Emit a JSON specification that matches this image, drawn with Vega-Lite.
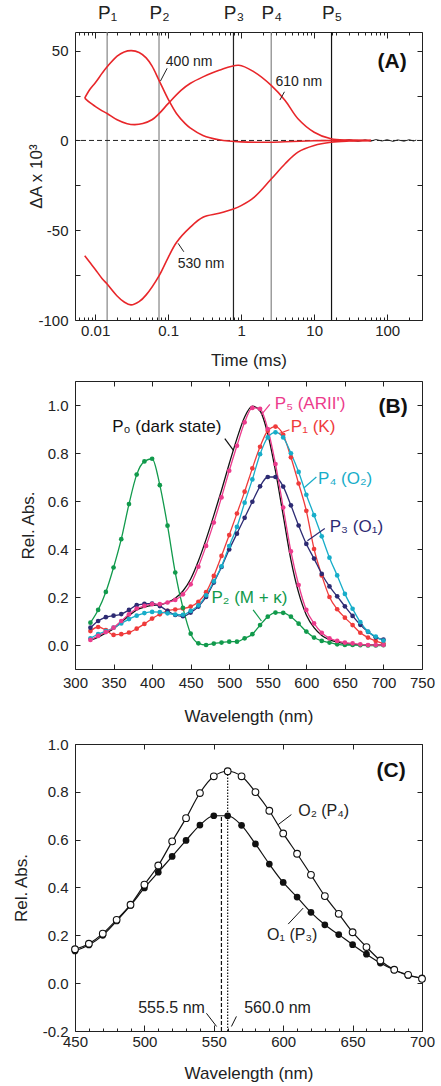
{
  "$schema": "https://vega.github.io/schema/vega-lite/v6.json",
  "padding": {"left": 11, "top": 2, "right": 0, "bottom": 0},
  "spacing": 11,
  "resolve": {"scale": {"color": "independent"}},
  "config": {
    "font": "Liberation Sans",
    "view": {"stroke": "#222", "strokeWidth": 1},
    "axis": {"grid": false, "domain": false, "tickColor": "#222", "tickSize": -5, "tickWidth": 1, "labelColor": "#222", "labelFontSize": 15, "labelFont": "Liberation Sans", "titleFont": "Liberation Sans", "titleFontSize": 17, "titleFontWeight": "normal", "titleColor": "#222", "labelPadding": 11, "labelFlush": false, "labelOverlap": false},
    "text": {"font": "Liberation Sans"}
  },
  "datasets": {
    "kinetics": [
      {"t": 0.0072, "v": 23.6, "s": "400"}, {"t": 0.0085, "v": 28.5, "s": "400"}, {"t": 0.01, "v": 32, "s": "400"}, {"t": 0.0125, "v": 37.5, "s": "400"}, {"t": 0.0146, "v": 41, "s": "400"}, {"t": 0.02, "v": 47, "s": "400"}, {"t": 0.025, "v": 49.3, "s": "400"}, {"t": 0.0314, "v": 50, "s": "400"}, {"t": 0.04, "v": 49, "s": "400"}, {"t": 0.05, "v": 46, "s": "400"}, {"t": 0.06, "v": 41.5, "s": "400"}, {"t": 0.075, "v": 33.5, "s": "400"}, {"t": 0.1, "v": 23, "s": "400"}, {"t": 0.13, "v": 15, "s": "400"}, {"t": 0.17, "v": 9.5, "s": "400"}, {"t": 0.2, "v": 7, "s": "400"}, {"t": 0.3, "v": 2.8, "s": "400"}, {"t": 0.5, "v": 0.4, "s": "400"}, {"t": 1, "v": -0.8, "s": "400"}, {"t": 2.5, "v": -1, "s": "400"}, {"t": 5, "v": -0.6, "s": "400"}, {"t": 10, "v": -0.2, "s": "400"}, {"t": 20, "v": 0, "s": "400"}, {"t": 60, "v": 0, "s": "400"},
      {"t": 0.0072, "v": 23.6, "s": "610"}, {"t": 0.0085, "v": 21, "s": "610"}, {"t": 0.01, "v": 19, "s": "610"}, {"t": 0.0125, "v": 16.5, "s": "610"}, {"t": 0.0146, "v": 15, "s": "610"}, {"t": 0.02, "v": 11.5, "s": "610"}, {"t": 0.0275, "v": 9.3, "s": "610"}, {"t": 0.035, "v": 8.8, "s": "610"}, {"t": 0.045, "v": 9.4, "s": "610"}, {"t": 0.06, "v": 11.5, "s": "610"}, {"t": 0.075, "v": 14.9, "s": "610"}, {"t": 0.1, "v": 20.5, "s": "610"}, {"t": 0.15, "v": 27.9, "s": "610"}, {"t": 0.2, "v": 31.7, "s": "610"}, {"t": 0.3, "v": 35.4, "s": "610"}, {"t": 0.5, "v": 39.1, "s": "610"}, {"t": 0.93, "v": 41.9, "s": "610"}, {"t": 1.5, "v": 38.2, "s": "610"}, {"t": 2.58, "v": 30.7, "s": "610"}, {"t": 4, "v": 22.3, "s": "610"}, {"t": 6, "v": 12.1, "s": "610"}, {"t": 10, "v": 4.6, "s": "610"}, {"t": 17, "v": 0.9, "s": "610"}, {"t": 30, "v": 0.2, "s": "610"}, {"t": 60, "v": 0, "s": "610"},
      {"t": 0.0072, "v": -64.2, "s": "530"}, {"t": 0.0085, "v": -68, "s": "530"}, {"t": 0.01, "v": -71.7, "s": "530"}, {"t": 0.0125, "v": -77, "s": "530"}, {"t": 0.0146, "v": -80, "s": "530"}, {"t": 0.02, "v": -86.6, "s": "530"}, {"t": 0.025, "v": -90, "s": "530"}, {"t": 0.031, "v": -91.6, "s": "530"}, {"t": 0.04, "v": -89.8, "s": "530"}, {"t": 0.05, "v": -86, "s": "530"}, {"t": 0.075, "v": -75.4, "s": "530"}, {"t": 0.1, "v": -65.2, "s": "530"}, {"t": 0.13, "v": -56.8, "s": "530"}, {"t": 0.2, "v": -48.4, "s": "530"}, {"t": 0.3, "v": -42.8, "s": "530"}, {"t": 0.5, "v": -40.6, "s": "530"}, {"t": 0.785, "v": -38.2, "s": "530"}, {"t": 1, "v": -36.3, "s": "530"}, {"t": 1.5, "v": -31.7, "s": "530"}, {"t": 2.58, "v": -21.5, "s": "530"}, {"t": 4, "v": -13, "s": "530"}, {"t": 6, "v": -6.5, "s": "530"}, {"t": 10, "v": -2.8, "s": "530"}, {"t": 17, "v": -1, "s": "530"}, {"t": 30, "v": -0.3, "s": "530"}, {"t": 60, "v": 0, "s": "530"}
    ],
    "noise": [
      {"t": 20, "v": 0.5}, {"t": 25, "v": -0.3}, {"t": 30, "v": 0.4}, {"t": 40, "v": -0.5}, {"t": 50, "v": 0.3}, {"t": 60, "v": -0.4}, {"t": 70, "v": 0.5}, {"t": 85, "v": -0.3}, {"t": 100, "v": 0.4}, {"t": 120, "v": -0.5}, {"t": 140, "v": 0.3}, {"t": 170, "v": -0.4}, {"t": 200, "v": 0.4}, {"t": 230, "v": -0.3}, {"t": 250, "v": 0.2}
    ],
    "spectra": [
      {"w":320,"v":0.02,"s":"P0"},{"w":330,"v":0.033,"s":"P0"},{"w":340,"v":0.05,"s":"P0"},{"w":350,"v":0.068,"s":"P0"},{"w":360,"v":0.095,"s":"P0"},{"w":370,"v":0.122,"s":"P0"},{"w":380,"v":0.146,"s":"P0"},{"w":390,"v":0.158,"s":"P0"},{"w":400,"v":0.165,"s":"P0"},{"w":410,"v":0.168,"s":"P0"},{"w":420,"v":0.178,"s":"P0"},{"w":430,"v":0.195,"s":"P0"},{"w":440,"v":0.225,"s":"P0"},{"w":450,"v":0.275,"s":"P0"},{"w":460,"v":0.35,"s":"P0"},{"w":470,"v":0.44,"s":"P0"},{"w":480,"v":0.54,"s":"P0"},{"w":490,"v":0.645,"s":"P0"},{"w":500,"v":0.755,"s":"P0"},{"w":510,"v":0.86,"s":"P0"},{"w":520,"v":0.95,"s":"P0"},{"w":530,"v":0.995,"s":"P0"},{"w":540,"v":0.975,"s":"P0"},{"w":550,"v":0.88,"s":"P0"},{"w":560,"v":0.725,"s":"P0"},{"w":570,"v":0.54,"s":"P0"},{"w":580,"v":0.355,"s":"P0"},{"w":590,"v":0.218,"s":"P0"},{"w":600,"v":0.125,"s":"P0"},{"w":610,"v":0.072,"s":"P0"},{"w":620,"v":0.04,"s":"P0"},{"w":630,"v":0.022,"s":"P0"},{"w":640,"v":0.012,"s":"P0"},{"w":650,"v":0.006,"s":"P0"},{"w":660,"v":0.003,"s":"P0"},{"w":670,"v":0.001,"s":"P0"},{"w":680,"v":0,"s":"P0"},{"w":690,"v":0,"s":"P0"},{"w":700,"v":0,"s":"P0"},
      {"w":320,"v":0.058,"s":"P1"},{"w":330,"v":0.075,"s":"P1"},{"w":340,"v":0.062,"s":"P1"},{"w":350,"v":0.042,"s":"P1"},{"w":360,"v":0.045,"s":"P1"},{"w":370,"v":0.052,"s":"P1"},{"w":380,"v":0.068,"s":"P1"},{"w":390,"v":0.088,"s":"P1"},{"w":400,"v":0.11,"s":"P1"},{"w":410,"v":0.128,"s":"P1"},{"w":420,"v":0.142,"s":"P1"},{"w":430,"v":0.148,"s":"P1"},{"w":440,"v":0.152,"s":"P1"},{"w":450,"v":0.16,"s":"P1"},{"w":460,"v":0.18,"s":"P1"},{"w":470,"v":0.22,"s":"P1"},{"w":480,"v":0.288,"s":"P1"},{"w":490,"v":0.371,"s":"P1"},{"w":500,"v":0.458,"s":"P1"},{"w":510,"v":0.548,"s":"P1"},{"w":520,"v":0.639,"s":"P1"},{"w":530,"v":0.736,"s":"P1"},{"w":540,"v":0.826,"s":"P1"},{"w":550,"v":0.893,"s":"P1"},{"w":560,"v":0.91,"s":"P1"},{"w":570,"v":0.876,"s":"P1"},{"w":580,"v":0.782,"s":"P1"},{"w":590,"v":0.673,"s":"P1"},{"w":600,"v":0.559,"s":"P1"},{"w":610,"v":0.4,"s":"P1"},{"w":620,"v":0.29,"s":"P1"},{"w":630,"v":0.2,"s":"P1"},{"w":640,"v":0.149,"s":"P1"},{"w":650,"v":0.114,"s":"P1"},{"w":660,"v":0.083,"s":"P1"},{"w":670,"v":0.051,"s":"P1"},{"w":680,"v":0.031,"s":"P1"},{"w":690,"v":0.017,"s":"P1"},{"w":700,"v":0.006,"s":"P1"},
      {"w":320,"v":0.072,"s":"P3"},{"w":330,"v":0.1,"s":"P3"},{"w":340,"v":0.116,"s":"P3"},{"w":350,"v":0.122,"s":"P3"},{"w":360,"v":0.129,"s":"P3"},{"w":370,"v":0.146,"s":"P3"},{"w":380,"v":0.166,"s":"P3"},{"w":390,"v":0.171,"s":"P3"},{"w":400,"v":0.173,"s":"P3"},{"w":410,"v":0.162,"s":"P3"},{"w":420,"v":0.142,"s":"P3"},{"w":430,"v":0.125,"s":"P3"},{"w":440,"v":0.12,"s":"P3"},{"w":450,"v":0.135,"s":"P3"},{"w":460,"v":0.16,"s":"P3"},{"w":470,"v":0.2,"s":"P3"},{"w":480,"v":0.26,"s":"P3"},{"w":490,"v":0.325,"s":"P3"},{"w":500,"v":0.398,"s":"P3"},{"w":510,"v":0.464,"s":"P3"},{"w":520,"v":0.53,"s":"P3"},{"w":530,"v":0.597,"s":"P3"},{"w":540,"v":0.661,"s":"P3"},{"w":550,"v":0.7,"s":"P3"},{"w":560,"v":0.7,"s":"P3"},{"w":570,"v":0.66,"s":"P3"},{"w":580,"v":0.582,"s":"P3"},{"w":590,"v":0.498,"s":"P3"},{"w":600,"v":0.421,"s":"P3"},{"w":610,"v":0.36,"s":"P3"},{"w":620,"v":0.296,"s":"P3"},{"w":630,"v":0.244,"s":"P3"},{"w":640,"v":0.203,"s":"P3"},{"w":650,"v":0.161,"s":"P3"},{"w":660,"v":0.121,"s":"P3"},{"w":670,"v":0.084,"s":"P3"},{"w":680,"v":0.055,"s":"P3"},{"w":690,"v":0.032,"s":"P3"},{"w":700,"v":0.022,"s":"P3"},
      {"w":320,"v":0.028,"s":"P4"},{"w":330,"v":0.045,"s":"P4"},{"w":340,"v":0.058,"s":"P4"},{"w":350,"v":0.072,"s":"P4"},{"w":360,"v":0.09,"s":"P4"},{"w":370,"v":0.108,"s":"P4"},{"w":380,"v":0.122,"s":"P4"},{"w":390,"v":0.133,"s":"P4"},{"w":400,"v":0.138,"s":"P4"},{"w":410,"v":0.137,"s":"P4"},{"w":420,"v":0.132,"s":"P4"},{"w":430,"v":0.127,"s":"P4"},{"w":440,"v":0.126,"s":"P4"},{"w":450,"v":0.142,"s":"P4"},{"w":460,"v":0.165,"s":"P4"},{"w":470,"v":0.207,"s":"P4"},{"w":480,"v":0.265,"s":"P4"},{"w":490,"v":0.328,"s":"P4"},{"w":500,"v":0.412,"s":"P4"},{"w":510,"v":0.492,"s":"P4"},{"w":520,"v":0.593,"s":"P4"},{"w":530,"v":0.69,"s":"P4"},{"w":540,"v":0.795,"s":"P4"},{"w":550,"v":0.865,"s":"P4"},{"w":560,"v":0.886,"s":"P4"},{"w":570,"v":0.865,"s":"P4"},{"w":580,"v":0.799,"s":"P4"},{"w":590,"v":0.721,"s":"P4"},{"w":600,"v":0.626,"s":"P4"},{"w":610,"v":0.541,"s":"P4"},{"w":620,"v":0.453,"s":"P4"},{"w":630,"v":0.364,"s":"P4"},{"w":640,"v":0.29,"s":"P4"},{"w":650,"v":0.213,"s":"P4"},{"w":660,"v":0.151,"s":"P4"},{"w":670,"v":0.095,"s":"P4"},{"w":680,"v":0.056,"s":"P4"},{"w":690,"v":0.035,"s":"P4"},{"w":700,"v":0.018,"s":"P4"},
      {"w":320,"v":0.093,"s":"P2"},{"w":330,"v":0.146,"s":"P2"},{"w":340,"v":0.221,"s":"P2"},{"w":350,"v":0.323,"s":"P2"},{"w":360,"v":0.441,"s":"P2"},{"w":370,"v":0.587,"s":"P2"},{"w":380,"v":0.71,"s":"P2"},{"w":390,"v":0.765,"s":"P2"},{"w":400,"v":0.776,"s":"P2"},{"w":410,"v":0.666,"s":"P2"},{"w":420,"v":0.497,"s":"P2"},{"w":430,"v":0.302,"s":"P2"},{"w":440,"v":0.155,"s":"P2"},{"w":450,"v":0.047,"s":"P2"},{"w":460,"v":0.007,"s":"P2"},{"w":470,"v":0,"s":"P2"},{"w":480,"v":0.006,"s":"P2"},{"w":490,"v":0.01,"s":"P2"},{"w":500,"v":0.014,"s":"P2"},{"w":510,"v":0.014,"s":"P2"},{"w":520,"v":0.028,"s":"P2"},{"w":530,"v":0.045,"s":"P2"},{"w":540,"v":0.083,"s":"P2"},{"w":550,"v":0.118,"s":"P2"},{"w":560,"v":0.135,"s":"P2"},{"w":570,"v":0.134,"s":"P2"},{"w":580,"v":0.118,"s":"P2"},{"w":590,"v":0.089,"s":"P2"},{"w":600,"v":0.056,"s":"P2"},{"w":610,"v":0.031,"s":"P2"},{"w":620,"v":0.017,"s":"P2"},{"w":630,"v":0.01,"s":"P2"},{"w":640,"v":0.003,"s":"P2"},{"w":650,"v":0,"s":"P2"},{"w":660,"v":0,"s":"P2"},{"w":670,"v":-0.001,"s":"P2"},{"w":680,"v":-0.002,"s":"P2"},{"w":690,"v":-0.002,"s":"P2"},{"w":700,"v":-0.001,"s":"P2"},
      {"w":320,"v":0.021,"s":"P5"},{"w":330,"v":0.038,"s":"P5"},{"w":340,"v":0.054,"s":"P5"},{"w":350,"v":0.072,"s":"P5"},{"w":360,"v":0.1,"s":"P5"},{"w":370,"v":0.128,"s":"P5"},{"w":380,"v":0.152,"s":"P5"},{"w":390,"v":0.163,"s":"P5"},{"w":400,"v":0.17,"s":"P5"},{"w":410,"v":0.17,"s":"P5"},{"w":420,"v":0.177,"s":"P5"},{"w":430,"v":0.188,"s":"P5"},{"w":440,"v":0.211,"s":"P5"},{"w":450,"v":0.253,"s":"P5"},{"w":460,"v":0.326,"s":"P5"},{"w":470,"v":0.413,"s":"P5"},{"w":480,"v":0.51,"s":"P5"},{"w":490,"v":0.615,"s":"P5"},{"w":500,"v":0.726,"s":"P5"},{"w":510,"v":0.83,"s":"P5"},{"w":520,"v":0.928,"s":"P5"},{"w":530,"v":0.988,"s":"P5"},{"w":540,"v":0.984,"s":"P5"},{"w":550,"v":0.9,"s":"P5"},{"w":560,"v":0.754,"s":"P5"},{"w":570,"v":0.573,"s":"P5"},{"w":580,"v":0.39,"s":"P5"},{"w":590,"v":0.25,"s":"P5"},{"w":600,"v":0.146,"s":"P5"},{"w":610,"v":0.09,"s":"P5"},{"w":620,"v":0.051,"s":"P5"},{"w":630,"v":0.028,"s":"P5"},{"w":640,"v":0.017,"s":"P5"},{"w":650,"v":0.01,"s":"P5"},{"w":660,"v":0.007,"s":"P5"},{"w":670,"v":0.003,"s":"P5"},{"w":680,"v":0,"s":"P5"},{"w":690,"v":0,"s":"P5"},{"w":700,"v":0,"s":"P5"}
    ]
  },
  "vconcat": [
    {
      "width": 347,
      "height": 288,
      "resolve": {"axis": {"x": "independent", "y": "independent"}},
      "layer": [
        {
          "data": {"values": [{"t": 0.0146, "p": "P1"}, {"t": 0.075, "p": "P2"}, {"t": 0.785, "p": "P3"}, {"t": 2.58, "p": "P4"}, {"t": 17.3, "p": "P5"}]},
          "mark": {"type": "rule", "strokeWidth": 1.2},
          "encoding": {
            "x": {"field": "t", "type": "quantitative", "scale": {"type": "log", "domain": [0.0053, 300], "nice": false}, "axis": null},
            "color": {"field": "p", "type": "nominal", "scale": {"domain": ["P1", "P2", "P3", "P4", "P5"], "range": ["#858585", "#858585", "#222222", "#858585", "#111111"]}, "legend": null}
          }
        },
        {
          "data": {"values": [{}]},
          "mark": {"type": "rule", "strokeDash": [5, 3], "color": "#222", "strokeWidth": 1},
          "encoding": {"y": {"datum": 0, "type": "quantitative", "scale": {"domain": [-100, 60.4], "nice": false, "zero": false}, "axis": null}}
        },
        {
          "data": {"name": "noise"},
          "mark": {"type": "line", "color": "#222", "strokeWidth": 1},
          "encoding": {
            "x": {"field": "t", "type": "quantitative", "scale": {"type": "log", "domain": [0.0053, 300], "nice": false},
              "axis": {"orient": "top", "title": null, "values": [0.006,0.007,0.008,0.009,0.01,0.0146,0.02,0.03,0.04,0.05,0.06,0.07,0.075,0.08,0.09,0.1,0.2,0.3,0.4,0.5,0.6,0.7,0.785,0.8,0.9,1,2,2.58,3,4,5,6,7,8,9,10,17.3,20,30,40,50,60,70,80,90,100,200,300],
                "tickSize": {"condition": {"test": "datum.value == 0.01 || datum.value == 0.1 || datum.value == 1 || datum.value == 10 || datum.value == 100", "value": -6}, "value": -3},
                "labelExpr": "datum.value == 0.0146 ? 'P₁' : datum.value == 0.075 ? 'P₂' : datum.value == 0.785 ? 'P₃' : datum.value == 2.58 ? 'P₄' : datum.value == 17.3 ? 'P₅' : ''", "labelFontSize": 19, "labelPadding": 13}},
            "y": {"field": "v", "type": "quantitative", "scale": {"domain": [-100, 60.4], "nice": false, "zero": false},
              "axis": {"orient": "right", "title": null, "values": [-100, -75, -50, -25, 0, 25, 50], "labels": false}}
          }
        },
        {
          "data": {"name": "kinetics"},
          "mark": {"type": "line", "color": "#e8262a", "strokeWidth": 1.6, "interpolate": "catmull-rom"},
          "encoding": {
            "x": {"field": "t", "type": "quantitative", "scale": {"type": "log", "domain": [0.0053, 300], "nice": false},
              "axis": {"orient": "bottom", "title": "Time (ms)", "titlePadding": 11, "labelPadding": 9, "values": [0.006,0.007,0.008,0.009,0.01,0.02,0.03,0.04,0.05,0.06,0.07,0.08,0.09,0.1,0.2,0.3,0.4,0.5,0.6,0.7,0.8,0.9,1,2,3,4,5,6,7,8,9,10,20,30,40,50,60,70,80,90,100,200,300],
                "tickSize": {"condition": {"test": "datum.value == 0.01 || datum.value == 0.1 || datum.value == 1 || datum.value == 10 || datum.value == 100", "value": -6}, "value": -3},
                "labelExpr": "datum.value == 0.01 ? '0.01' : datum.value == 0.1 ? '0.1' : datum.value == 1 ? '1' : datum.value == 10 ? '10' : datum.value == 100 ? '100' : ''"}},
            "y": {"field": "v", "type": "quantitative", "scale": {"domain": [-100, 60.4], "nice": false, "zero": false},
              "axis": {"orient": "left", "title": "ΔA x 10³", "titlePadding": -8, "labelPadding": 12, "values": [-100, -75, -50, -25, 0, 25, 50],
                "labelExpr": "datum.value % 50 == 0 ? (datum.value < 0 ? '-' + (-datum.value) : '' + datum.value) : ''"}},
            "detail": {"field": "s", "type": "nominal"}
          }
        },
        {
          "data": {"values": [{"t": 0.0785, "v": 33.1, "t2": 0.0969, "v2": 40.2}, {"t": 3.39, "v": 22.5, "t2": 3.92, "v2": 27.1}, {"t": 0.137, "v": -57.3, "t2": 0.164, "v2": -62.0}]},
          "mark": {"type": "rule", "color": "#222", "strokeWidth": 1},
          "encoding": {
            "x": {"field": "t", "type": "quantitative", "axis": null},
            "x2": {"field": "t2"},
            "y": {"field": "v", "type": "quantitative", "axis": null},
            "y2": {"field": "v2"}
          }
        },
        {
          "data": {"values": [{"t": 0.093, "v": 43.9, "label": "400 nm"}, {"t": 2.95, "v": 32.7, "label": "610 nm"}, {"t": 0.135, "v": -68.8, "label": "530 nm"}]},
          "mark": {"type": "text", "align": "left", "baseline": "middle", "fontSize": 14, "color": "#222"},
          "encoding": {
            "x": {"field": "t", "type": "quantitative", "axis": null},
            "y": {"field": "v", "type": "quantitative", "axis": null},
            "text": {"field": "label"}
          }
        },
        {
          "data": {"values": [{"t": 117, "v": 43.7, "label": "(A)"}]},
          "mark": {"type": "text", "align": "center", "baseline": "middle", "fontSize": 21, "fontWeight": "bold", "color": "#111"},
          "encoding": {
            "x": {"field": "t", "type": "quantitative", "axis": null},
            "y": {"field": "v", "type": "quantitative", "axis": null},
            "text": {"field": "label"}
          }
        }
      ]
    },
    {
      "width": 347,
      "height": 288,
      "resolve": {"axis": {"x": "independent", "y": "independent"}},
      "layer": [
        {
          "data": {"name": "spectra"},
          "transform": [{"filter": "datum.s == 'P0'"}],
          "mark": {"type": "line", "strokeWidth": 1.3, "interpolate": "monotone"},
          "encoding": {
            "x": {"field": "w", "type": "quantitative", "scale": {"domain": [300, 750], "nice": false, "zero": false},
              "axis": {"orient": "top", "title": null, "values": [300,350,400,450,500,550,600,650,700,750], "labels": false}},
            "y": {"field": "v", "type": "quantitative", "scale": {"domain": [-0.1, 1.1], "nice": false, "zero": false},
              "axis": {"orient": "right", "title": null, "values": [0, 0.2, 0.4, 0.6, 0.8, 1], "labels": false}},
            "color": {"field": "s", "type": "nominal", "scale": {"domain": ["P0", "P1", "P2", "P3", "P4", "P5"], "range": ["#111111", "#ef3b3b", "#119a4c", "#2d2b73", "#17adc9", "#ec3b8c"]}, "legend": null}
          }
        },
        {
          "data": {"name": "spectra"},
          "transform": [{"filter": "datum.s != 'P0'"}],
          "mark": {"type": "line", "strokeWidth": 1.3, "interpolate": "monotone", "point": {"filled": true, "size": 22}},
          "encoding": {
            "x": {"field": "w", "type": "quantitative", "scale": {"domain": [300, 750], "nice": false, "zero": false},
              "axis": {"orient": "bottom", "title": "Wavelength (nm)", "titlePadding": 18, "values": [300,350,400,450,500,550,600,650,700,750], "format": "d"}},
            "y": {"field": "v", "type": "quantitative", "scale": {"domain": [-0.1, 1.1], "nice": false, "zero": false},
              "axis": {"orient": "left", "title": "Rel. Abs.", "titlePadding": 10, "labelPadding": 12, "values": [0, 0.2, 0.4, 0.6, 0.8, 1], "format": ".1f"}},
            "color": {"field": "s", "type": "nominal", "legend": null}
          }
        },
        {
          "data": {"values": [
            {"w": 541.8, "v": 0.96, "w2": 552.7, "v2": 1.003, "s": "P5"},
            {"w": 564.7, "v": 0.881, "w2": 578, "v2": 0.897, "s": "P1"},
            {"w": 494.3, "v": 0.86, "w2": 505.5, "v2": 0.811, "s": "P0"},
            {"w": 597.1, "v": 0.655, "w2": 613, "v2": 0.7, "s": "P4"},
            {"w": 601.4, "v": 0.434, "w2": 623.9, "v2": 0.485, "s": "P3"},
            {"w": 541.8, "v": 0.1, "w2": 531, "v2": 0.146, "s": "P2"}
          ]},
          "mark": {"type": "rule", "strokeWidth": 1.2},
          "encoding": {
            "x": {"field": "w", "type": "quantitative", "axis": null},
            "x2": {"field": "w2"},
            "y": {"field": "v", "type": "quantitative", "axis": null},
            "y2": {"field": "v2"},
            "color": {"field": "s", "type": "nominal", "legend": null}
          }
        },
        {
          "data": {"values": [
            {"w": 559.1, "v": 1.004, "label": "P₅ (ARII')", "s": "P5"},
            {"w": 579.9, "v": 0.907, "label": "P₁ (K)", "s": "P1"},
            {"w": 348.3, "v": 0.907, "label": "P₀ (dark state)", "s": "P0"},
            {"w": 615.2, "v": 0.691, "label": "P₄ (O₂)", "s": "P4"},
            {"w": 630.4, "v": 0.49, "label": "P₃ (O₁)", "s": "P3"},
            {"w": 477, "v": 0.194, "label": "P₂ (M + κ)", "s": "P2"}
          ]},
          "mark": {"type": "text", "align": "left", "baseline": "middle", "fontSize": 17},
          "encoding": {
            "x": {"field": "w", "type": "quantitative", "axis": null},
            "y": {"field": "v", "type": "quantitative", "axis": null},
            "text": {"field": "label"},
            "color": {"field": "s", "type": "nominal", "legend": null}
          }
        },
        {
          "data": {"values": [{"w": 712.5, "v": 0.99, "label": "(B)"}]},
          "mark": {"type": "text", "align": "center", "baseline": "middle", "fontSize": 21, "fontWeight": "bold", "color": "#111"},
          "encoding": {
            "x": {"field": "w", "type": "quantitative", "axis": null},
            "y": {"field": "v", "type": "quantitative", "axis": null},
            "text": {"field": "label"}
          }
        }
      ]
    },
    {
      "width": 347,
      "height": 287,
      "resolve": {"axis": {"x": "independent", "y": "independent"}},
      "layer": [
        {
          "data": {"values": [{"w": 555.5, "v": -0.2, "v2": 0.7}]},
          "mark": {"type": "rule", "strokeDash": [4, 2], "color": "#111", "strokeWidth": 1.2},
          "encoding": {
            "x": {"field": "w", "type": "quantitative", "scale": {"domain": [450, 700], "nice": false, "zero": false}, "axis": null},
            "y": {"field": "v", "type": "quantitative", "scale": {"domain": [-0.2, 1.0], "nice": false, "zero": false}, "axis": null},
            "y2": {"field": "v2"}
          }
        },
        {
          "data": {"values": [{"w": 560, "v": -0.2, "v2": 0.886}]},
          "mark": {"type": "rule", "strokeDash": [1.5, 1.5], "color": "#111", "strokeWidth": 1.2},
          "encoding": {
            "x": {"field": "w", "type": "quantitative", "axis": null},
            "y": {"field": "v", "type": "quantitative", "axis": null},
            "y2": {"field": "v2"}
          }
        },
        {
          "data": {"name": "spectra"},
          "transform": [{"filter": "datum.s == 'P3' && datum.w >= 450"}],
          "mark": {"type": "line", "color": "#111", "strokeWidth": 1.2, "interpolate": "monotone", "point": {"filled": true, "size": 45, "color": "#111"}},
          "encoding": {
            "x": {"field": "w", "type": "quantitative", "scale": {"domain": [450, 700], "nice": false, "zero": false},
              "axis": {"orient": "bottom", "title": "Wavelength (nm)", "titlePadding": 13, "labelPadding": 9, "values": [450,460,470,480,490,500,510,520,530,540,550,560,570,580,590,600,610,620,630,640,650,660,670,680,690,700],
                "tickSize": {"condition": {"test": "datum.value % 50 == 0", "value": -6}, "value": -3},
                "labelExpr": "datum.value % 50 == 0 ? '' + datum.value : ''"}},
            "y": {"field": "v", "type": "quantitative", "scale": {"domain": [-0.2, 1.0], "nice": false, "zero": false},
              "axis": {"orient": "left", "title": "Rel. Abs.", "titlePadding": 12, "labelPadding": 12, "values": [-0.2, 0, 0.2, 0.4, 0.6, 0.8, 1],
                "labelExpr": "datum.value < 0 ? '-' + format(-datum.value, '.1f') : format(datum.value, '.1f')"}}
          }
        },
        {
          "data": {"name": "spectra"},
          "transform": [{"filter": "datum.s == 'P4' && datum.w >= 450"}],
          "mark": {"type": "line", "color": "#111", "strokeWidth": 1.2, "interpolate": "monotone", "point": {"filled": false, "fill": "white", "stroke": "#111", "strokeWidth": 1.1, "size": 45}},
          "encoding": {
            "x": {"field": "w", "type": "quantitative", "scale": {"domain": [450, 700], "nice": false, "zero": false},
              "axis": {"orient": "top", "title": null, "values": [450, 500, 550, 600, 650, 700], "labels": false}},
            "y": {"field": "v", "type": "quantitative", "scale": {"domain": [-0.2, 1.0], "nice": false, "zero": false},
              "axis": {"orient": "right", "title": null, "values": [-0.2, 0, 0.2, 0.4, 0.6, 0.8, 1], "labels": false}}
          }
        },
        {
          "data": {"values": [
            {"w": 596.4, "v": 0.663, "w2": 605.9, "v2": 0.705},
            {"w": 603.6, "v": 0.247, "w2": 614.4, "v2": 0.314},
            {"w": 544.7, "v": -0.126, "w2": 552, "v2": -0.181},
            {"w": 566.3, "v": -0.139, "w2": 562.7, "v2": -0.181}
          ]},
          "mark": {"type": "rule", "color": "#111", "strokeWidth": 1},
          "encoding": {
            "x": {"field": "w", "type": "quantitative", "axis": null},
            "x2": {"field": "w2"},
            "y": {"field": "v", "type": "quantitative", "axis": null},
            "y2": {"field": "v2"}
          }
        },
        {
          "data": {"values": [
            {"w": 610.8, "v": 0.718, "label": "O₂ (P₄)"},
            {"w": 588.4, "v": 0.2, "label": "O₁ (P₃)"},
            {"w": 571.9, "v": -0.102, "label": "560.0 nm"}
          ]},
          "mark": {"type": "text", "align": "left", "baseline": "middle", "fontSize": 16, "color": "#222"},
          "encoding": {
            "x": {"field": "w", "type": "quantitative", "axis": null},
            "y": {"field": "v", "type": "quantitative", "axis": null},
            "text": {"field": "label"}
          }
        },
        {
          "data": {"values": [{"w": 543.6, "v": -0.102, "label": "555.5 nm"}]},
          "mark": {"type": "text", "align": "right", "baseline": "middle", "fontSize": 16, "color": "#222"},
          "encoding": {
            "x": {"field": "w", "type": "quantitative", "axis": null},
            "y": {"field": "v", "type": "quantitative", "axis": null},
            "text": {"field": "label"}
          }
        },
        {
          "data": {"values": [{"w": 677.7, "v": 0.886, "label": "(C)"}]},
          "mark": {"type": "text", "align": "center", "baseline": "middle", "fontSize": 21, "fontWeight": "bold", "color": "#111"},
          "encoding": {
            "x": {"field": "w", "type": "quantitative", "axis": null},
            "y": {"field": "v", "type": "quantitative", "axis": null},
            "text": {"field": "label"}
          }
        }
      ]
    }
  ]
}
